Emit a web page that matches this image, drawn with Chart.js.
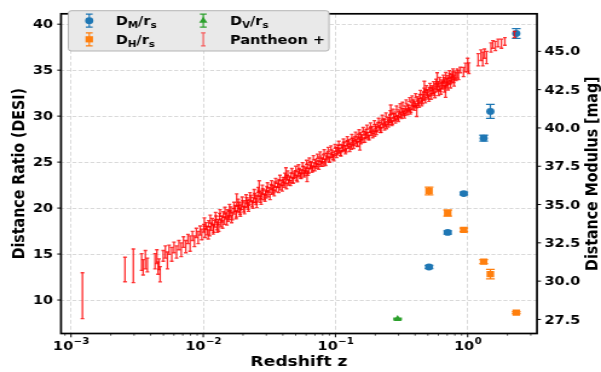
<!DOCTYPE html>
<html><head><meta charset="utf-8">
<script src="https://cdn.jsdelivr.net/npm/chart.js@4.4.1/dist/chart.umd.min.js"></script>
<style>html,body{margin:0;padding:0;background:#fff;overflow:hidden}canvas{display:block}</style>
</head><body>
<canvas id="c" width="497" height="372" style="width:601px;height:372px"></canvas>
<script>
// ---------------- data ----------------
const desiZ = [0.510, 0.706, 0.934, 1.321, 1.484, 2.330];
const dmOverRs = [13.59, 17.35, 21.58, 27.60, 30.51, 38.99];
const dmErr = [0.17, 0.18, 0.15, 0.32, 0.76, 0.53];
const dhOverRs = [21.86, 19.46, 17.64, 14.18, 12.82, 8.63];
const dhErr = [0.43, 0.33, 0.19, 0.22, 0.52, 0.10];
const dvZ = [0.295];
const dvOverRs = [7.94];
const dvErr = [0.08];

// Pantheon+ distance moduli [z, mu, err]
const snLow = [[0.00122,29.05,1.50],[0.00256,30.76,0.80],[0.00296,31.00,1.10],[0.00342,31.25,0.55],[0.00351,30.90,0.50],[0.00365,31.40,0.60],[0.00378,31.05,0.45],[0.00432,31.30,0.50],[0.00446,31.60,0.45],[0.00455,30.85,0.40],[0.00463,31.10,0.35],[0.00472,30.45,0.50],[0.00498,31.65,0.35],[0.00517,31.90,0.40],[0.00536,31.35,0.55],[0.00552,32.05,0.30],[0.00578,31.75,0.45],[0.00601,32.20,0.35],[0.00628,31.90,0.40],[0.00655,32.35,0.30],[0.00682,32.05,0.45],[0.00709,32.55,0.35],[0.00738,32.25,0.40],[0.00766,32.75,0.30],[0.00795,32.45,0.50],[0.00829,32.95,0.30],[0.00858,32.60,0.35],[0.00887,33.15,0.30],[0.00916,32.85,0.40],[0.00948,33.30,0.30],[0.00975,33.05,0.35]];
const snNear = [[0.0101,33.45,0.25],[0.0103,33.15,0.30],[0.0105,33.60,0.22],[0.0107,33.30,0.28],[0.0110,33.75,0.20],[0.0112,33.25,0.30],[0.0115,33.55,0.24],[0.0117,33.90,0.20],[0.0120,33.45,0.26],[0.0122,33.75,0.22],[0.0125,34.05,0.20],[0.0127,33.60,0.25],[0.0130,33.85,0.18],[0.0131,33.55,0.30],[0.0133,34.20,0.22],[0.0136,33.80,0.26],[0.0139,34.05,0.20],[0.0142,34.35,0.18],[0.0145,33.95,0.24],[0.0148,34.25,0.20],[0.0152,34.45,0.22],[0.0155,34.10,0.19],[0.0157,34.30,0.26],[0.0159,34.40,0.21],[0.0162,34.65,0.20],[0.0166,34.25,0.25],[0.0170,34.55,0.18],[0.0174,34.75,0.20],[0.0178,34.40,0.22],[0.0179,35.30,0.40],[0.0182,34.70,0.17],[0.0186,34.95,0.20],[0.0188,34.70,0.24],[0.0190,34.55,0.21],[0.0194,34.85,0.18],[0.0199,35.05,0.20],[0.0203,34.70,0.19],[0.0208,35.00,0.17],[0.0213,35.25,0.20],[0.0216,35.05,0.22],[0.0218,34.90,0.22],[0.0223,35.15,0.16],[0.0228,35.40,0.19],[0.0234,35.05,0.20],[0.0239,35.30,0.17],[0.0245,35.55,0.18],[0.0248,35.35,0.21],[0.0251,35.20,0.20],[0.0257,35.45,0.16],[0.0263,35.70,0.18],[0.0265,36.20,0.35],[0.0269,35.35,0.21],[0.0272,35.55,0.20],[0.0276,35.65,0.17],[0.0282,35.85,0.18],[0.0289,35.50,0.19],[0.0296,35.80,0.16],[0.0299,35.65,0.22],[0.0303,36.00,0.18],[0.0310,35.70,0.20],[0.0317,35.95,0.15],[0.0325,36.15,0.17],[0.0332,35.85,0.19],[0.0336,35.95,0.20],[0.0340,36.10,0.16],[0.0348,36.30,0.18],[0.0356,36.00,0.17],[0.0365,36.25,0.15],[0.0369,36.35,0.19],[0.0374,36.45,0.17],[0.0383,36.15,0.19],[0.0392,36.40,0.15],[0.0401,36.60,0.17],[0.0405,36.45,0.18],[0.0411,36.30,0.18],[0.0420,36.55,0.15],[0.0422,37.10,0.30],[0.0430,36.75,0.16],[0.0441,36.45,0.18],[0.0446,36.60,0.19],[0.0451,36.70,0.14],[0.0462,36.90,0.16],[0.0473,36.60,0.17],[0.0484,36.85,0.15],[0.0490,36.95,0.18],[0.0496,37.05,0.16],[0.0508,36.75,0.17],[0.0520,37.00,0.14],[0.0532,37.20,0.16],[0.0538,37.05,0.19],[0.0545,36.90,0.17],[0.0558,37.15,0.14],[0.0571,37.35,0.15],[0.0585,37.05,0.17],[0.0592,37.20,0.18],[0.0599,37.30,0.14],[0.0610,36.80,0.30],[0.0613,37.50,0.15],[0.0627,37.20,0.16],[0.0642,37.45,0.13],[0.0650,37.55,0.17],[0.0658,37.65,0.15],[0.0673,37.35,0.16],[0.0690,37.60,0.14],[0.0706,37.80,0.15],[0.0715,37.65,0.18],[0.0723,37.50,0.16],[0.0740,37.75,0.13],[0.0757,37.95,0.15],[0.0775,37.65,0.16],[0.0785,37.85,0.17],[0.0794,37.90,0.14],[0.0813,38.10,0.15],[0.0832,37.80,0.16],[0.0852,38.05,0.13],[0.0862,38.15,0.17],[0.0872,38.25,0.15],[0.0893,37.95,0.16],[0.0914,38.20,0.13],[0.0936,38.40,0.15],[0.0947,38.25,0.16],[0.0958,38.10,0.16],[0.0981,38.35,0.14]];
const snMid = [[0.101,38.60,0.13],[0.103,38.40,0.15],[0.104,38.55,0.18],[0.105,38.75,0.12],[0.107,38.50,0.14],[0.109,38.35,0.16],[0.111,38.80,0.12],[0.113,38.60,0.14],[0.114,38.70,0.17],[0.116,38.95,0.13],[0.118,38.70,0.15],[0.120,38.55,0.12],[0.122,39.00,0.14],[0.124,38.95,0.18],[0.125,38.80,0.13],[0.127,39.10,0.15],[0.130,38.90,0.12],[0.132,38.75,0.14],[0.134,39.05,0.16],[0.135,39.20,0.13],[0.138,39.00,0.15],[0.140,39.30,0.12],[0.143,39.10,0.14],[0.145,39.25,0.17],[0.146,38.95,0.16],[0.149,39.45,0.13],[0.152,39.25,0.12],[0.153,38.90,0.35],[0.155,39.55,0.14],[0.157,39.40,0.16],[0.158,39.35,0.13],[0.161,39.20,0.15],[0.164,39.65,0.12],[0.168,39.45,0.14],[0.170,39.55,0.17],[0.171,39.75,0.13],[0.175,39.55,0.15],[0.178,39.40,0.12],[0.182,39.85,0.14],[0.185,39.85,0.16],[0.186,39.65,0.13],[0.190,39.95,0.15],[0.194,39.75,0.12],[0.198,39.60,0.14],[0.200,39.95,0.17],[0.202,40.10,0.13],[0.206,39.90,0.15],[0.210,40.20,0.12],[0.215,40.00,0.14],[0.217,40.20,0.16],[0.219,39.85,0.16],[0.224,40.35,0.13],[0.228,40.15,0.12],[0.233,40.45,0.14],[0.236,40.40,0.17],[0.238,40.25,0.13],[0.243,40.10,0.15],[0.248,40.55,0.12],[0.253,40.35,0.14],[0.256,40.55,0.16],[0.258,40.70,0.13],[0.262,41.20,0.30],[0.264,40.50,0.15],[0.269,40.35,0.12],[0.275,40.80,0.14],[0.278,40.75,0.17],[0.281,40.60,0.13],[0.287,40.90,0.15],[0.293,40.70,0.12],[0.299,40.55,0.14],[0.302,40.90,0.16],[0.305,41.05,0.13],[0.312,40.85,0.15],[0.318,41.15,0.12],[0.325,40.95,0.14],[0.328,41.10,0.17],[0.332,40.80,0.16],[0.339,41.30,0.13],[0.346,41.10,0.12],[0.353,41.40,0.14],[0.357,41.30,0.16],[0.361,41.20,0.13],[0.368,41.05,0.15],[0.376,41.55,0.12],[0.384,41.35,0.14],[0.388,41.55,0.17],[0.392,41.70,0.13],[0.400,41.55,0.15],[0.409,41.45,0.13],[0.412,41.10,0.35],[0.417,41.90,0.14],[0.421,41.65,0.18],[0.426,41.75,0.16],[0.435,42.05,0.14],[0.444,41.85,0.15],[0.454,41.75,0.17],[0.458,42.00,0.19],[0.463,42.20,0.15],[0.470,42.70,0.35],[0.473,42.00,0.16],[0.483,42.35,0.14],[0.493,42.15,0.17],[0.498,42.30,0.19],[0.504,42.05,0.16],[0.514,42.50,0.15],[0.525,42.30,0.18],[0.536,42.60,0.16],[0.542,42.45,0.20],[0.548,42.40,0.17],[0.559,42.30,0.19],[0.571,42.75,0.16],[0.583,42.55,0.18],[0.588,43.30,0.30],[0.590,42.70,0.21],[0.596,42.85,0.17],[0.608,42.65,0.20],[0.621,42.55,0.18],[0.634,42.95,0.19],[0.641,42.75,0.22],[0.648,42.80,0.20],[0.661,43.10,0.18],[0.675,42.90,0.21],[0.680,42.40,0.40],[0.690,42.80,0.20],[0.697,43.00,0.23],[0.704,43.20,0.22],[0.719,43.05,0.20],[0.734,43.30,0.24],[0.750,43.10,0.22],[0.758,43.25,0.25],[0.766,43.40,0.26],[0.782,43.20,0.24],[0.799,43.45,0.28]];
const snSpread = [[0.0102,33.85,0.28],[0.0109,33.05,0.30],[0.0113,34.05,0.26],[0.0119,33.35,0.28],[0.0124,34.25,0.24],[0.0128,33.45,0.27],[0.0134,34.45,0.22],[0.0140,33.70,0.25],[0.0146,34.60,0.22],[0.0151,33.90,0.24],[0.0158,34.80,0.21],[0.0164,34.05,0.24],[0.0171,34.95,0.20],[0.0177,34.30,0.23],[0.0184,35.15,0.20],[0.0191,34.45,0.22],[0.0197,35.30,0.19],[0.0205,34.60,0.21],[0.0211,35.45,0.19],[0.0220,34.75,0.20],[0.0226,35.60,0.18],[0.0237,34.95,0.20],[0.0243,35.80,0.18],[0.0254,35.00,0.20],[0.0260,35.95,0.17],[0.0274,35.20,0.19],[0.0280,36.10,0.17],[0.0293,35.40,0.19],[0.0306,36.25,0.17],[0.0320,35.50,0.18],[0.0329,36.40,0.16],[0.0344,35.75,0.18],[0.0353,36.55,0.16],[0.0372,35.95,0.17],[0.0380,36.75,0.16],[0.0396,36.05,0.17],[0.0415,36.90,0.15],[0.0426,36.20,0.17],[0.0436,37.05,0.15],[0.0456,36.40,0.16],[0.0468,37.20,0.15],[0.0479,36.55,0.16],[0.0502,37.35,0.15],[0.0514,36.65,0.16],[0.0526,37.45,0.15],[0.0550,36.85,0.16],[0.0564,37.60,0.14],[0.0578,36.95,0.16],[0.0605,37.75,0.14],[0.0620,37.05,0.15],[0.0635,37.90,0.14],[0.0665,37.25,0.15],[0.0681,38.05,0.14],[0.0698,37.35,0.15],[0.0731,38.15,0.14],[0.0748,37.45,0.15],[0.0766,38.30,0.14],[0.0803,37.65,0.15],[0.0822,38.45,0.13],[0.0842,37.70,0.15],[0.0882,38.60,0.13],[0.0903,37.90,0.15],[0.0925,38.70,0.13],[0.0970,38.00,0.15],[0.0992,38.80,0.13],[0.102,38.20,0.14],[0.106,39.00,0.13],[0.110,38.30,0.14],[0.115,39.15,0.13],[0.119,38.45,0.14],[0.123,39.30,0.13],[0.128,38.60,0.14],[0.133,39.45,0.13],[0.137,38.80,0.14],[0.142,39.60,0.13],[0.147,38.95,0.14],[0.151,39.75,0.13],[0.156,39.10,0.14],[0.162,39.90,0.13],[0.167,39.20,0.14],[0.173,40.05,0.13],[0.179,39.35,0.14],[0.184,40.20,0.13],[0.191,39.50,0.14],[0.197,40.35,0.13],[0.204,39.70,0.14],[0.212,40.50,0.13],[0.221,39.85,0.14],[0.226,40.70,0.13],[0.235,40.00,0.14],[0.241,40.85,0.13],[0.251,40.20,0.14],[0.260,41.00,0.13],[0.267,40.30,0.14],[0.272,41.10,0.13],[0.284,40.45,0.14],[0.290,41.30,0.13],[0.296,40.65,0.14],[0.309,41.45,0.13],[0.315,40.75,0.14],[0.322,41.55,0.13],[0.336,40.95,0.14],[0.343,41.70,0.13],[0.350,41.00,0.14],[0.364,41.85,0.13],[0.372,41.15,0.14],[0.380,41.95,0.14],[0.396,41.30,0.15],[0.404,42.10,0.14],[0.430,41.50,0.15],[0.439,42.30,0.15],[0.449,41.60,0.16],[0.468,42.45,0.15],[0.478,41.80,0.16],[0.488,42.60,0.16],[0.509,41.90,0.17],[0.519,42.75,0.16],[0.530,42.05,0.18],[0.553,42.85,0.17],[0.565,42.15,0.18],[0.577,43.00,0.18],[0.602,42.30,0.19],[0.614,43.10,0.19],[0.627,42.40,0.20],[0.655,43.25,0.20],[0.668,42.55,0.21],[0.683,43.40,0.22],[0.711,42.70,0.22],[0.727,43.50,0.24],[0.742,42.85,0.24],[0.774,43.60,0.26],[0.790,43.00,0.27]];
const snHigh = [[0.816,43.35,0.25],[0.835,43.55,0.30],[0.852,43.45,0.30],[0.880,43.78,0.18],[0.930,43.65,0.30],[0.962,43.95,0.28],[1.000,44.10,0.45],[1.020,43.90,0.35],[1.200,44.45,0.40],[1.260,44.75,0.35],[1.300,44.50,0.45],[1.340,44.85,0.30],[1.390,44.60,0.40],[1.500,45.25,0.30],[1.550,45.45,0.25],[1.620,45.35,0.30],[1.700,45.55,0.25],[1.800,45.50,0.30],[1.910,45.65,0.25],[2.260,46.10,0.20]];

// axes
const xTickValues = [1e-3, 1e-2, 1e-1, 1];
const xTickExponents = ['\u22123', '\u22122', '\u22121', '0'];
const leftTicks = [10, 15, 20, 25, 30, 35, 40];
const rightTicks = [27.5, 30.0, 32.5, 35.0, 37.5, 40.0, 42.5, 45.0];

// ---------------- chart ----------------
const F = "'DejaVu Sans', sans-serif";
Chart.defaults.font.family = F;
const snAll = [].concat(snLow, snNear, snSpread, snMid, snHigh);
const pts = (xs, ys) => xs.map((x, i) => ({x: x, y: ys[i]}));

function drawErrorBars(chart, onTop) {
  const c = chart.ctx, a = chart.chartArea;
  c.save();
  c.beginPath(); c.rect(a.left, a.top, a.right - a.left, a.bottom - a.top); c.clip();
  chart.data.datasets.forEach(ds => {
    if (!ds.errors || !!ds.barsOnTop !== onTop) return;
    const xs = chart.scales.x, ys = chart.scales[ds.yAxisID];
    c.strokeStyle = ds.barColor; c.lineWidth = ds.barWidth;
    ds.data.forEach((p, j) => {
      const e = ds.errors[j];
      const px = xs.getPixelForValue(p.x);
      const y1 = ys.getPixelForValue(p.y - e), y2 = ys.getPixelForValue(p.y + e);
      c.beginPath();
      c.moveTo(px, y1); c.lineTo(px, y2);
      c.moveTo(px - ds.cap, y1); c.lineTo(px + ds.cap, y1);
      c.moveTo(px - ds.cap, y2); c.lineTo(px + ds.cap, y2);
      c.stroke();
    });
  });
  c.restore();
}

function marker(c, style, x, y, color) {
  c.fillStyle = color; c.beginPath();
  if (style === 'circle') c.arc(x, y, 3.4, 0, Math.PI * 2);
  else if (style === 'rect') c.rect(x - 3.1, y - 3.1, 6.2, 6.2);
  else if (style === 'triangle') { c.moveTo(x, y - 4); c.lineTo(x + 3.46, y + 2); c.lineTo(x - 3.46, y + 2); c.closePath(); }
  c.fill();
}
function legendIcon(c, x, y, color, style, cap, alpha) {
  c.save(); c.globalAlpha = alpha; c.strokeStyle = color; c.lineWidth = 1.2;
  c.beginPath();
  c.moveTo(x, y - 6.5); c.lineTo(x, y + 6.5);
  c.moveTo(x - cap, y - 6.5); c.lineTo(x + cap, y - 6.5);
  c.moveTo(x - cap, y + 6.5); c.lineTo(x + cap, y + 6.5);
  c.stroke();
  c.restore();
  if (style) marker(c, style, x, y, color);
}
function mathText(c, parts, x, base) {
  parts.forEach(p => {
    c.font = p[1] ? `bold 8.5px ${F}` : `bold 12px ${F}`;
    c.fillText(p[0], x, base + (p[1] ? 2.6 : 0));
    x += c.measureText(p[0]).width;
  });
}

const decorations = {
  id: 'decorations',
  beforeDatasetsDraw(chart) { drawErrorBars(chart, false); },
  afterDatasetsDraw(chart) { drawErrorBars(chart, true); },
  afterDraw(chart) {
    const c = chart.ctx, a = chart.chartArea, xs = chart.scales.x, yl = chart.scales.y, yr = chart.scales.y2;
    c.save();
    c.strokeStyle = '#000'; c.lineWidth = 1;
    c.beginPath();
    yl.ticks.forEach(t => { const y = yl.getPixelForValue(t.value); c.moveTo(a.left - 3.1, y); c.lineTo(a.left, y); });
    yr.ticks.forEach(t => { const y = yr.getPixelForValue(t.value); c.moveTo(a.right, y); c.lineTo(a.right + 3.3, y); });
    xTickValues.forEach(v => { const x = xs.getPixelForValue(v); c.moveTo(x, a.bottom); c.lineTo(x, a.bottom + 3.8); });
    c.stroke();
    c.lineWidth = 0.7; c.beginPath();
    for (let e = -4; e <= 0; e++) for (let k = 2; k <= 9; k++) {
      const v = k * Math.pow(10, e);
      if (v > xs.min && v < xs.max) { const x = xs.getPixelForValue(v); c.moveTo(x, a.bottom); c.lineTo(x, a.bottom + 2.2); }
    }
    c.stroke();
    c.lineWidth = 1.7;
    c.strokeRect(a.left, a.top, a.right - a.left, a.bottom - a.top);

    // x tick labels 10^n
    c.fillStyle = '#000'; c.textBaseline = 'alphabetic'; c.textAlign = 'left';
    xTickValues.forEach((v, i) => {
      const x = xs.getPixelForValue(v);
      c.font = `bold 12px ${F}`; const w1 = c.measureText('10').width;
      c.font = `bold 8.5px ${F}`; const w2 = c.measureText(xTickExponents[i]).width;
      const x0 = x - (w1 + w2) / 2;
      c.font = `bold 12px ${F}`; c.fillText('10', x0, 349.5);
      c.font = `bold 8.5px ${F}`; c.fillText(xTickExponents[i], x0 + w1 + 0.3, 344.3);
    });

    // axis titles
    c.font = `bold 14.2px ${F}`; c.textAlign = 'center';
    c.fillText('Redshift z', (a.left + a.right) / 2, 365.7);
    const midY = (a.top + a.bottom) / 2;
    c.save(); c.translate(19.6, midY); c.rotate(-Math.PI / 2); c.fillText('Distance Ratio (DESI)', 0, 0); c.restore();
    c.save(); c.translate(494.2, midY); c.rotate(-Math.PI / 2); c.fillText('Distance Modulus [mag]', 0, 0); c.restore();

    // legend
    const L = 56.5, T = 10.7, R = 272.1, B = 51, r = 2.5;
    c.beginPath();
    c.moveTo(L + r, T); c.lineTo(R - r, T); c.quadraticCurveTo(R, T, R, T + r);
    c.lineTo(R, B - r); c.quadraticCurveTo(R, B, R - r, B);
    c.lineTo(L + r, B); c.quadraticCurveTo(L, B, L, B - r);
    c.lineTo(L, T + r); c.quadraticCurveTo(L, T, L + r, T);
    c.closePath();
    c.fillStyle = '#e9e9e9'; c.fill();
    c.lineWidth = 0.8; c.strokeStyle = '#a3a3a3'; c.stroke();

    const row1 = 20.7, row2 = 39.3, c1 = 73.8, c2 = 168.1, t1 = 95.7, t2 = 190.2;
    legendIcon(c, c1, row1, '#1f77b4', 'circle', 2.8, 1);
    legendIcon(c, c1, row2, '#ff7f0e', 'rect', 2.8, 1);
    legendIcon(c, c2, row1, '#2ca02c', 'triangle', 2.8, 1);
    legendIcon(c, c2, row2, '#ff0000', null, 1.9, 0.6);
    c.fillStyle = '#000'; c.textAlign = 'left';
    mathText(c, [['D', 0], ['M', 1], ['/r', 0], ['s', 1]], t1, row1 + 4.6);
    mathText(c, [['D', 0], ['H', 1], ['/r', 0], ['s', 1]], t1, row2 + 4.6);
    mathText(c, [['D', 0], ['V', 1], ['/r', 0], ['s', 1]], t2, row1 + 4.6);
    mathText(c, [['Pantheon +', 0]], t2, row2 + 4.6);
    c.restore();
  }
};

const tickFont = {family: F, size: 12, weight: 'bold'};
new Chart(document.getElementById('c').getContext('2d'), {
  type: 'scatter',
  data: {
    datasets: [
      {label: 'DM/rs', data: pts(desiZ, dmOverRs), errors: dmErr, yAxisID: 'y', pointStyle: 'circle', pointRadius: 3.4, pointBorderWidth: 0, backgroundColor: '#1f77b4', borderColor: '#1f77b4', barColor: '#1f77b4', barWidth: 1.3, cap: 3.6},
      {label: 'DH/rs', data: pts(desiZ, dhOverRs), errors: dhErr, yAxisID: 'y', pointStyle: 'rect', pointRadius: 4.4, pointBorderWidth: 0, backgroundColor: '#ff7f0e', borderColor: '#ff7f0e', barColor: '#ff7f0e', barWidth: 1.3, cap: 3.6},
      {label: 'DV/rs', data: pts(dvZ, dvOverRs), errors: dvErr, yAxisID: 'y', pointStyle: 'triangle', pointRadius: 4, pointBorderWidth: 0, backgroundColor: '#2ca02c', borderColor: '#2ca02c', barColor: '#2ca02c', barWidth: 1.3, cap: 3.6},
      {label: 'Pantheon +', data: snAll.map(p => ({x: p[0], y: p[1]})), errors: snAll.map(p => p[2]), yAxisID: 'y2', pointRadius: 0, barColor: 'rgba(255,0,0,0.8)', barWidth: 1.35, cap: 1.5, barsOnTop: true}
    ]
  },
  options: {
    responsive: false, animation: false, devicePixelRatio: 1, events: [],
    layout: {padding: {top: 4, left: 0, right: 0, bottom: 0}},
    plugins: {legend: {display: false}, tooltip: {enabled: false}},
    scales: {
      x: {
        type: 'logarithmic', position: 'bottom', min: 8.40e-4, max: 3.343,
        afterBuildTicks: s => { s.ticks = xTickValues.map(v => ({value: v})); },
        afterFit: s => { s.height = 38.5; },
        ticks: {display: false},
        grid: {color: 'rgba(0,0,0,0.15)', lineWidth: 1, drawTicks: false},
        border: {display: false, dash: [4, 2]}
      },
      y: {
        position: 'left', min: 6.36, max: 41.13,
        afterBuildTicks: s => { s.ticks = leftTicks.map(v => ({value: v})); },
        afterFit: s => { s.width = 50.44; },
        ticks: {font: tickFont, color: '#000', padding: 6.6, labelOffset: 1, callback: v => String(v)},
        grid: {color: 'rgba(0,0,0,0.15)', lineWidth: 1, drawTicks: false},
        border: {display: false, dash: [3.3, 1.65]}
      },
      y2: {
        position: 'right', min: 26.582, max: 47.451,
        afterBuildTicks: s => { s.ticks = rightTicks.map(v => ({value: v})); },
        afterFit: s => { s.width = 497 - 444.06; },
        ticks: {font: tickFont, color: '#000', padding: 6.2, labelOffset: 1, callback: v => Number(v).toFixed(1)},
        grid: {display: false, drawTicks: false},
        border: {display: false}
      }
    }
  },
  plugins: [decorations]
});
</script>
</body></html>
